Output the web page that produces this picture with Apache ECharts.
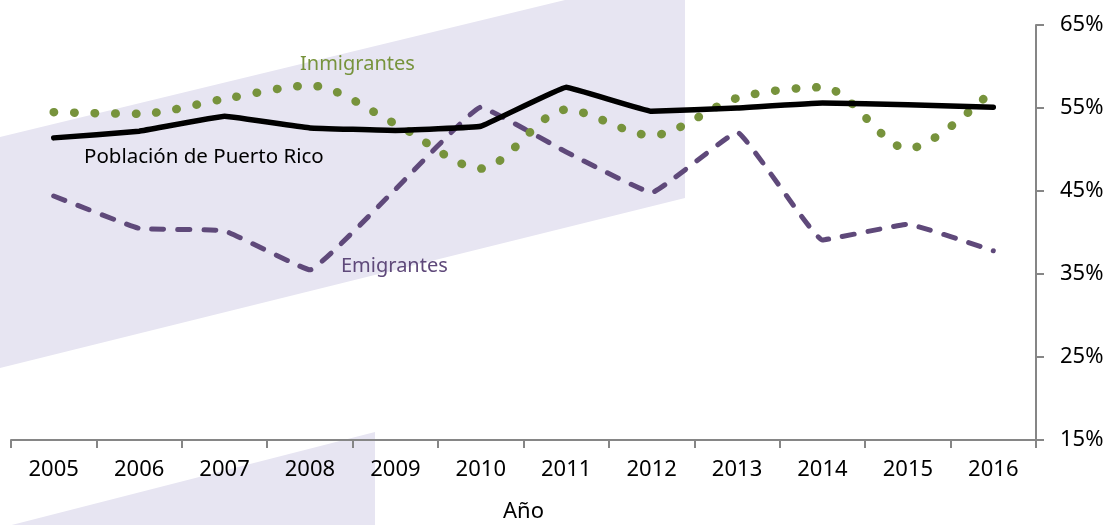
<!DOCTYPE html>
<html>
<head>
<meta charset="utf-8">
<script src="https://cdn.jsdelivr.net/npm/echarts@6/dist/echarts.min.js"></script>
<style>html,body{margin:0;padding:0;background:#fff}#c{width:1107px;height:525px}</style>
</head>
<body>
<div id="c"></div>
<script>
const years = ['2005','2006','2007','2008','2009','2010','2011','2012','2013','2014','2015','2016'];
const poblacion = [51.4, 52.2, 54.0, 52.6, 52.3, 52.8, 57.5, 54.6, 55.0, 55.6, 55.4, 55.1];
const inmigrantes = [54.5, 54.3, 56.1, 57.7, 53.1, 47.7, 54.8, 51.7, 56.2, 57.5, 50.1, 57.2];
const emigrantes = [44.4, 40.5, 40.2, 35.5, 45.2, 55.1, 49.7, 44.8, 52.1, 39.1, 41.0, 37.8];
const yTicks = [15, 25, 35, 45, 55, 65];

const font = '"Noto Sans", "Open Sans", sans-serif';
const chart = echarts.init(document.getElementById('c'), null, {renderer: 'canvas'});
chart.setOption({
  animation: false,
  backgroundColor: '#ffffff',
  grid: {left: 11, right: 71, top: 25, bottom: 85, containLabel: false, outerBoundsMode: 'none'},
  graphic: [
    {type: 'polygon', z: -10, silent: true,
     shape: {points: [[0, 137], [565, 0], [685, 0], [685, 198], [0, 368]]},
     style: {fill: '#e7e5f2'}},
    {type: 'polygon', z: -10, silent: true,
     shape: {points: [[0, 528], [375, 432], [375, 525], [0, 525]]},
     style: {fill: '#e7e5f2'}},
    {type: 'text', left: 300, top: 54, z: 10,
     style: {text: 'Inmigrantes', fill: '#77933c', font: '20px ' + font}},
    {type: 'text', left: 84, top: 147, z: 10,
     style: {text: 'Población de Puerto Rico', fill: '#000000', font: '20.5px ' + font}},
    {type: 'text', left: 341, top: 256, z: 10,
     style: {text: 'Emigrantes', fill: '#5f497a', font: '20px ' + font}}
  ],
  xAxis: {
    type: 'category',
    data: years,
    boundaryGap: true,
    name: 'Año',
    nameLocation: 'middle',
    nameGap: 61,
    nameTextStyle: {fontFamily: font, fontSize: 22, color: '#000'},
    axisLine: {lineStyle: {color: '#868686', width: 2}},
    axisTick: {show: true, alignWithLabel: false, length: 8, lineStyle: {color: '#868686', width: 2}},
    axisLabel: {fontFamily: font, fontSize: 22, color: '#000', margin: 19}
  },
  yAxis: {
    type: 'value',
    position: 'right',
    min: 15, max: 65, interval: 10,
    axisLine: {show: true, lineStyle: {color: '#868686', width: 2}},
    axisTick: {show: true, inside: false, length: 8, lineStyle: {color: '#868686', width: 2}},
    splitLine: {show: false},
    axisLabel: {fontFamily: font, fontSize: 22, color: '#000', margin: 24,
      formatter: v => yTicks.includes(v) ? v + '%' : ''}
  },
  series: [
    {name: 'Emigrantes', type: 'line', data: emigrantes, smooth: 0.08, symbol: 'none', z: 3,
     lineStyle: {color: '#5f497a', width: 5, type: [12, 14], cap: 'round', join: 'round'}},
    {name: 'Inmigrantes', type: 'line', data: inmigrantes, smooth: 0.3, symbol: 'none', z: 4,
     lineStyle: {color: '#77933c', width: 8.5, type: [0.5, 20], cap: 'round', join: 'round'}},
    {name: 'Población de Puerto Rico', type: 'line', data: poblacion, smooth: 0.06, symbol: 'none', z: 5,
     lineStyle: {color: '#000000', width: 5.5, cap: 'round', join: 'round'}}
  ]
});
</script>
</body>
</html>
